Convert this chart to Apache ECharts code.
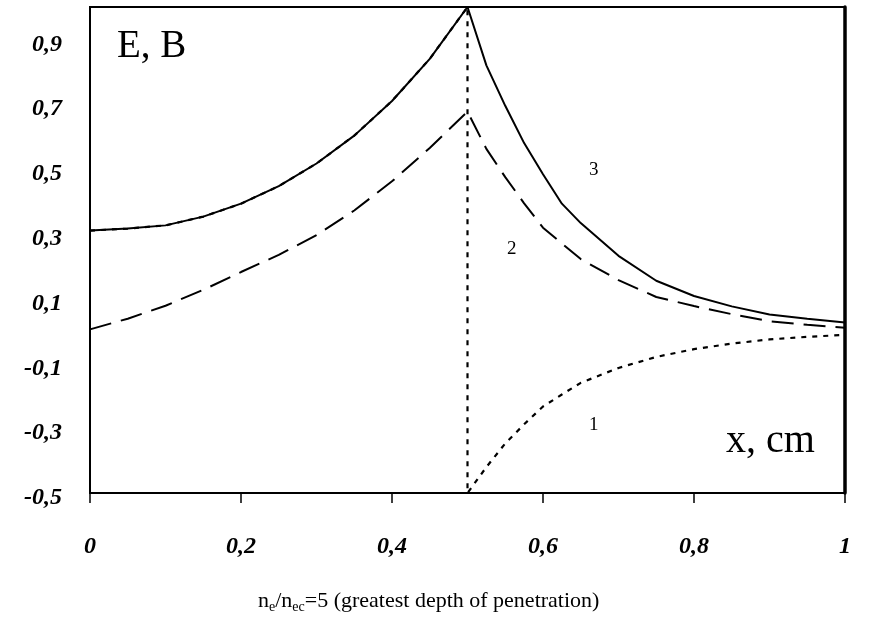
<!DOCTYPE html>
<html>
<head>
<meta charset="utf-8">
<script src="https://cdn.jsdelivr.net/npm/echarts@6/dist/echarts.min.js"></script>
<style>
  html, body { margin: 0; padding: 0; background: #fff; }
  #chart { width: 877px; height: 639px; }
</style>
</head>
<body>
<div id="chart"></div>
<script>
// Coordinates along x (cm)
var xLeft  = [0, 0.05, 0.1, 0.15, 0.2, 0.25, 0.3, 0.35, 0.4, 0.45, 0.5];
var xRight = [0.5, 0.525, 0.55, 0.575, 0.6, 0.625, 0.65, 0.7, 0.75, 0.8, 0.85, 0.9, 0.95, 1.0];

// Curve 3: field on the left and right of the step
var curve3Left  = [0.31, 0.316, 0.326, 0.353, 0.393, 0.447, 0.517, 0.603, 0.71, 0.84, 1.0];
var curve3Right = [1.0, 0.82, 0.695, 0.58, 0.484, 0.393, 0.333, 0.232, 0.155, 0.108, 0.076, 0.051, 0.038, 0.026];

// Curve 2
var curve2Left  = [0.005, 0.038, 0.078, 0.127, 0.182, 0.235, 0.296, 0.372, 0.462, 0.565, 0.677];
var curve2Right = [0.677, 0.562, 0.475, 0.394, 0.319, 0.27, 0.222, 0.157, 0.105, 0.077, 0.052, 0.03, 0.019, 0.01];
var curve2TailX = 1.042, curve2TailY = 0.015;

// Curve 1: follows curve 3 on the left, jumps at x = 0.5
var curve1Left  = [0.31, 0.316, 0.326, 0.353, 0.393, 0.447, 0.517, 0.603, 0.71, 0.84, 1.0];
var curve1Right = [-0.5, -0.42, -0.347, -0.288, -0.233, -0.196, -0.16, -0.114, -0.08, -0.056, -0.039, -0.026, -0.018, -0.012];

// Axis ticks
var xTickLabels = { 0: '0', 0.2: '0,2', 0.4: '0,4', 0.6: '0,6', 0.8: '0,8', 1: '1' };
var yTicks = [-0.5, -0.3, -0.1, 0.1, 0.3, 0.5, 0.7, 0.9];

function pairs(xs, ys) {
  return xs.map(function (x, i) { return [x, ys[i]]; });
}

var curve3 = pairs(xLeft, curve3Left).concat(pairs(xRight, curve3Right).slice(1));
var curve2 = pairs(xLeft, curve2Left).concat(pairs(xRight, curve2Right).slice(1));
curve2.push([curve2TailX, curve2TailY]);
var curve1 = pairs(xLeft, curve1Left).concat(pairs(xRight, curve1Right));

var serifLabel = {
  fontFamily: 'Liberation Serif',
  fontStyle: 'italic',
  fontWeight: 'bold',
  fontSize: 24,
  color: '#000'
};

var chart = echarts.init(document.getElementById('chart'), null, { renderer: 'canvas' });

chart.setOption({
  animation: false,
  backgroundColor: '#fff',
  grid: {
    left: 90, right: 32, top: 7, bottom: 146,
    show: true, borderColor: '#000', borderWidth: 2
  },
  xAxis: {
    type: 'value', min: 0, max: 1, interval: 0.2,
    axisLine: { show: true, onZero: false, lineStyle: { color: '#000', width: 2 } },
    axisTick: { show: true, inside: false, length: 10, lineStyle: { color: '#000', width: 1.5 } },
    splitLine: { show: false },
    axisLabel: Object.assign({
      margin: 42,
      formatter: function (v) {
        var k = Math.round(v * 10) / 10;
        return xTickLabels[k] !== undefined ? xTickLabels[k] : '';
      }
    }, serifLabel)
  },
  yAxis: [{
    type: 'value', min: -0.5, max: 1, interval: 0.2,
    axisLine: { show: true, onZero: false, lineStyle: { color: '#000', width: 2 } },
    axisTick: { show: false },
    splitLine: { show: false },
    axisLabel: Object.assign({
      margin: 28,
      verticalAlign: 'top',
      lineHeight: 10,
      formatter: function (v) {
        var k = Math.round(v * 10) / 10;
        if (yTicks.indexOf(k) < 0) return '';
        return k.toFixed(1).replace('.', ',');
      }
    }, serifLabel)
  }, {
    type: 'value', min: -0.5, max: 1, position: 'right',
    axisLine: { show: true, onZero: false, lineStyle: { color: '#000', width: 3.5 } },
    axisTick: { show: false },
    axisLabel: { show: false },
    splitLine: { show: false }
  }],
  series: [{
    name: '3',
    type: 'line',
    data: curve3,
    symbol: 'none',
    lineStyle: { color: '#000', width: 2 },
    z: 3
  }, {
    name: '2',
    type: 'line',
    data: curve2,
    symbol: 'none',
    clip: false,
    lineStyle: { color: '#000', width: 2, type: [22, 10] },
    z: 4
  }, {
    name: '1',
    type: 'line',
    data: curve1,
    symbol: 'none',
    lineStyle: { color: '#000', width: 2.2, type: [5, 6] },
    z: 5
  }],
  graphic: [{
    type: 'text', left: 117, top: 27,
    style: { text: 'E, B', fontFamily: 'Liberation Serif', fontSize: 39, fill: '#000' }
  }, {
    type: 'text', left: 726, top: 421,
    style: { text: 'x, cm', fontFamily: 'Liberation Serif', fontSize: 40, fill: '#000' }
  }, {
    type: 'text', left: 589, top: 161,
    style: { text: '3', fontFamily: 'Liberation Serif', fontSize: 19, fill: '#000' }
  }, {
    type: 'text', left: 507, top: 240,
    style: { text: '2', fontFamily: 'Liberation Serif', fontSize: 19, fill: '#000' }
  }, {
    type: 'text', left: 589, top: 416,
    style: { text: '1', fontFamily: 'Liberation Serif', fontSize: 19, fill: '#000' }
  }, {
    type: 'text', left: 258, top: 590,
    style: {
      text: 'n{sub|e}/n{sub|ec}=5 (greatest depth of penetration)',
      fontFamily: 'Liberation Serif', fontSize: 22, fill: '#000',
      rich: {
        sub: { fontFamily: 'Liberation Serif', fontSize: 14, fill: '#000', padding: [12, 0, 0, 0] }
      }
    }
  }]
});
</script>
</body>
</html>
